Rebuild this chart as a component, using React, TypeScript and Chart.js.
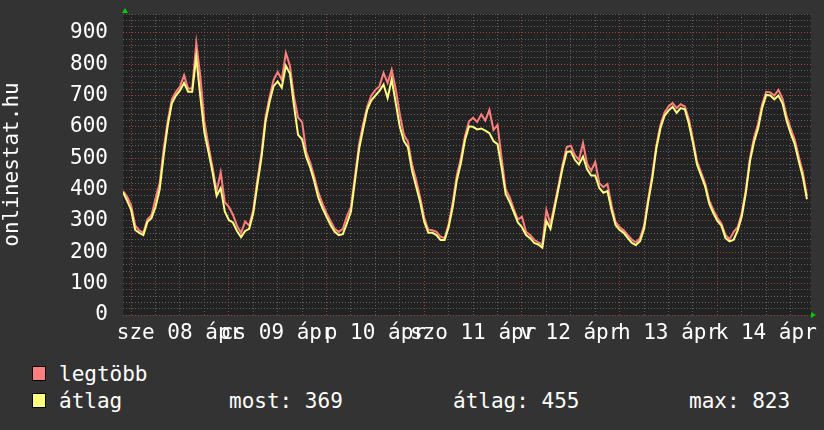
import React, { useEffect, useRef } from 'react';
import { Chart, registerables } from 'chart.js';

Chart.register(...registerables);

// hours relative to midnight of "sze 08 ápr"
const START_HOUR = -2;
const X_MIN = -2;
const X_MAX = 167;
const Y_MAX = 960;

const dayLabels = ['sze 08 ápr', 'cs 09 ápr', 'p 10 ápr', 'szo 11 ápr', 'v 12 ápr', 'h 13 ápr', 'k 14 ápr'];

// legtöbb (max) series, hourly
const legtobb = [
  395, 378, 350, 285, 270, 262, 305, 318, 372, 420, 530, 620,
  688, 712, 728, 765, 722, 722, 868, 760, 616, 540, 470, 395,
  455, 360, 345, 320, 285, 262, 298, 285, 335, 430, 515, 630,
  695, 750, 775, 750, 836, 795, 696, 630, 615, 520, 485, 440,
  390, 355, 325, 300, 275, 265, 275, 315, 345, 445, 545, 610,
  665, 700, 718, 730, 772, 740, 782, 720, 640, 575, 552, 480,
  431, 375, 310, 272, 270, 265, 250, 245, 290, 360, 445, 500,
  570, 618, 629, 616, 640, 620, 654, 590, 606, 500, 400, 375,
  338, 305, 313, 265, 255, 240, 232, 225, 335, 290, 352, 415,
  480, 536, 540, 510, 495, 549, 482, 460, 488, 420, 408, 418,
  350, 297, 280, 270, 255, 240, 232, 245, 285, 370, 445, 540,
  605, 645, 665, 676, 660, 672, 665, 625, 560, 490, 455, 420,
  365, 335, 310, 292, 255, 242, 265, 280, 325, 400, 500, 565,
  610, 672, 712, 710, 700, 718, 690, 635, 595, 560, 505, 455, 380,
];

// átlag (average) series, hourly
const atlag = [
  392, 365, 335, 271, 262, 255, 297, 309, 345, 400, 510, 605,
  675, 700, 716, 740, 712, 712, 823, 696, 582, 520, 455, 380,
  405, 330, 303, 295, 268, 248, 268, 275, 325, 415, 500, 615,
  680, 730, 745, 725, 795, 770, 668, 575, 560, 504, 470, 425,
  373, 341, 313, 287, 265, 255, 258, 292, 330, 430, 530, 595,
  655, 685, 700, 715, 735, 692, 752, 676, 600, 555, 535, 460,
  410, 360, 297, 262, 262, 255, 239, 239, 281, 345, 430, 485,
  558, 602, 600, 592, 595, 588, 580, 555, 545, 470, 385, 360,
  328, 295, 280, 255, 245, 230, 225, 215, 300, 275, 340, 405,
  470, 520, 522, 495, 480, 505, 465, 445, 445, 405, 390, 395,
  335, 287, 271, 262, 245, 230, 223, 235, 275, 360, 435, 530,
  595, 635, 652, 664, 645, 660, 656, 610, 549, 480, 445, 410,
  355, 325, 300, 285, 245, 235, 240, 270, 315, 390, 490, 552,
  595, 660, 702, 700, 688, 700, 675, 620, 580, 545, 490, 440, 369,
];

const statLabels = ['most: 369', 'átlag: 455', 'max: 823'];

const RED = '#ff7f7f';
const YELLOW = '#ffff80';
const FONT = 'DejaVu Sans Mono';

export default function App() {
  const ref = useRef<HTMLCanvasElement>(null);

  useEffect(() => {
    document.body.style.margin = '0';
    document.body.style.background = '#333333';
    const toPts = (arr: number[]) => arr.map((v, i) => ({ x: START_HOUR + i, y: v }));
    const font = { family: FONT, size: 21 };
    const majorGrid = '#9a4242';
    const minorGrid = '#5e5e5e';

    const bgPlugin = {
      id: 'plotBg',
      beforeDraw(c: any) {
        const { ctx, chartArea: a } = c;
        ctx.save();
        ctx.fillStyle = '#222222';
        ctx.fillRect(a.left, a.top, a.right - a.left, a.bottom - a.top);
        ctx.restore();
      },
    };
    const arrowPlugin = {
      id: 'arrows',
      afterDraw(c: any) {
        const { ctx, chartArea: a } = c;
        ctx.save();
        ctx.fillStyle = '#00cc00';
        const ax = a.left + 2;
        ctx.beginPath();
        ctx.moveTo(ax - 3, a.top - 1);
        ctx.lineTo(ax + 3, a.top - 1);
        ctx.lineTo(ax, a.top - 6);
        ctx.closePath();
        ctx.fill();
        const ay = a.bottom;
        ctx.beginPath();
        ctx.moveTo(a.right, ay - 3);
        ctx.lineTo(a.right, ay + 3);
        ctx.lineTo(a.right + 5, ay);
        ctx.closePath();
        ctx.fill();
        ctx.restore();
      },
    };

    const chart = new Chart(ref.current as HTMLCanvasElement, {
      type: 'line',
      data: {
        datasets: [
          { label: 'átlag', data: toPts(atlag), borderColor: YELLOW, borderWidth: 2, pointRadius: 0, tension: 0, fill: false },
          { label: 'legtöbb', data: toPts(legtobb), borderColor: RED, borderWidth: 2, pointRadius: 0, tension: 0, fill: false },
        ],
      },
      options: {
        animation: false,
        responsive: false,
        maintainAspectRatio: false,
        layout: { padding: { top: 14, right: 13, left: 0, bottom: 0 } },
        plugins: { legend: { display: false }, tooltip: { enabled: false } },
        scales: {
          x: {
            type: 'linear',
            min: X_MIN,
            max: X_MAX,
            afterBuildTicks: (s: any) => {
              const t: any[] = [];
              for (let h = 0; h < X_MAX; h += 6) t.push({ value: h });
              s.ticks = t;
            },
            afterFit: (s: any) => { s.height = 30; s.paddingLeft = 0; s.paddingRight = 0; },
            grid: {
              color: (ctx: any) => (ctx.tick && ctx.tick.value % 24 === 0 ? majorGrid : minorGrid),
              lineWidth: 1,
              drawTicks: false,
            },
            border: { display: false, dash: [1, 2] },
            ticks: {
              autoSkip: false,
              maxRotation: 0,
              minRotation: 0,
              color: '#ffffff',
              font,
              padding: 6,
              callback: (v: any) => {
                const n = Number(v);
                if ((n - 12) % 24 === 0) return dayLabels[(n - 12) / 24] ?? '';
                return '';
              },
            },
          },
          y: {
            min: 0,
            max: Y_MAX,
            afterBuildTicks: (s: any) => {
              const t: any[] = [];
              for (let v = 0; v <= Y_MAX; v += 20) t.push({ value: v });
              s.ticks = t;
            },
            afterFit: (s: any) => { s.width = 123; s.paddingTop = 0; s.paddingBottom = 0; },
            grid: {
              color: (ctx: any) => (ctx.tick && ctx.tick.value % 100 === 0 ? majorGrid : minorGrid),
              lineWidth: 1,
              drawTicks: false,
            },
            border: { display: false, dash: [1, 2] },
            ticks: {
              autoSkip: false,
              color: '#ffffff',
              font,
              padding: 15,
              callback: (v: any) => (Number(v) % 100 === 0 && Number(v) <= 900 ? String(v) : ''),
            },
            title: { display: true, text: 'onlinestat.hu', color: '#ffffff', font, padding: { top: 0, bottom: 0 } },
          },
        },
      },
      plugins: [bgPlugin, arrowPlugin],
    } as any);
    return () => chart.destroy();
  }, []);

  const textStyle: React.CSSProperties = {
    position: 'absolute',
    fontFamily: FONT,
    fontSize: 21,
    lineHeight: '24px',
    color: '#ffffff',
    whiteSpace: 'pre',
  };
  const sw = (top: number, color: string): React.CSSProperties => ({
    position: 'absolute', left: 32, top, width: 14, height: 15, background: color,
    border: '1px solid #000', boxSizing: 'border-box',
  });

  return (
    <div style={{ position: 'relative', width: 824, height: 430, background: '#333333', overflow: 'hidden' }}>
      <canvas ref={ref} width={824} height={345} style={{ position: 'absolute', left: 0, top: 0 }} />
      <div style={sw(366, RED)} />
      <div style={{ ...textStyle, left: 59, top: 362 }}>legtöbb</div>
      <div style={sw(393, YELLOW)} />
      <div style={{ ...textStyle, left: 59, top: 389 }}>átlag</div>
      <div style={{ ...textStyle, left: 229, top: 389 }}>{statLabels[0]}</div>
      <div style={{ ...textStyle, left: 453, top: 389 }}>{statLabels[1]}</div>
      <div style={{ ...textStyle, left: 689, top: 389 }}>{statLabels[2]}</div>
    </div>
  );
}
